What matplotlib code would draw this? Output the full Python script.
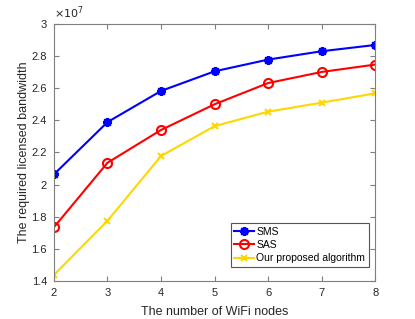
import matplotlib.pyplot as plt
from matplotlib.ticker import FuncFormatter

plt.rcParams['font.family'] = ['Liberation Sans', 'DejaVu Sans']

# WiFi nodes and required licensed bandwidth (x 1e7)
nodes = [2, 3, 4, 5, 6, 7, 8]
sms = [2.064, 2.389, 2.583, 2.705, 2.778, 2.830, 2.869]
sas = [1.735, 2.136, 2.340, 2.500, 2.632, 2.701, 2.747]
ours = [1.438, 1.775, 2.178, 2.364, 2.454, 2.510, 2.568]
labels = ['SMS', 'SAS', 'Our proposed algorithm']

fig = plt.figure(figsize=(4.15, 3.19), dpi=100)
ax = fig.add_axes([0.130, 0.119, 0.774, 0.806])

ax.plot(nodes, sms, '-', marker=(8, 2, 0), color='#0000ff', lw=1.5, ms=6.5, mew=1.6,
        label=labels[0])
ax.plot(nodes, sas, '-o', color='#ff0000', lw=1.5, ms=6.5, mfc='none', mew=1.5,
        label=labels[1])
ax.plot(nodes, ours, '-x', color='#ffd700', lw=1.5, ms=5, mew=1.5, label=labels[2])

ax.set_xlim(2, 8)
ax.set_ylim(1.4, 3)
ax.set_xticks(nodes)
ax.set_yticks([1.4, 1.6, 1.8, 2, 2.2, 2.4, 2.6, 2.8, 3])
ax.yaxis.set_major_formatter(FuncFormatter(lambda v, p: '%g' % round(v, 2)))

txt = '#262626'
for s in ax.spines.values():
    s.set_color('#7f7f7f')
    s.set_linewidth(0.8)
ax.tick_params(direction='in', top=True, right=True, length=3.5, width=0.8,
               color='#7f7f7f', labelcolor=txt, labelsize=8, pad=5)

ax.set_xlabel('The number of WiFi nodes', fontsize=9, color=txt, labelpad=6)
ax.set_ylabel('The required licensed bandwidth', fontsize=9, color=txt, labelpad=1)
ax.text(0.0, 1.01, r'$\times10^7$', transform=ax.transAxes, fontsize=8,
        color=txt, va='bottom', ha='left')

leg = ax.legend(loc='lower right', bbox_to_anchor=(0.98, 0.055), fontsize=7.5,
                fancybox=False, framealpha=1, edgecolor='#555555',
                handlelength=1.9, handletextpad=0.2, borderpad=0.35,
                labelspacing=0.3, borderaxespad=0)
leg.get_frame().set_linewidth(0.8)

fig.savefig('out.png', dpi=100)
